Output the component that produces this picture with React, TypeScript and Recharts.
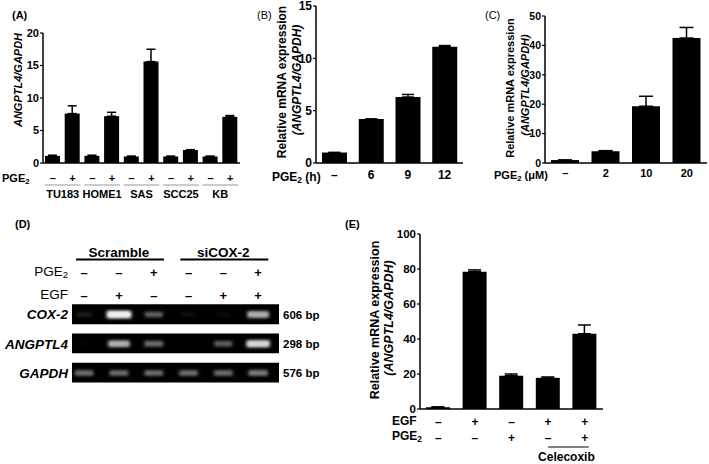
import { Bar, BarChart, ErrorBar, ReferenceArea, Scatter, ScatterChart, XAxis, YAxis } from 'recharts';

const FONT = '"Liberation Sans", Arial, Helvetica, sans-serif';

// (A) cell lines, PGE2 - / +
const cellLines = ['TU183', 'HOME1', 'SAS', 'SCC25', 'KB'];
const aCtrl = [1.1, 1.1, 1.0, 1.0, 1.0];
const aCtrlErr = [0.1, 0.1, 0.05, 0.05, 0.05];
const aPge = [7.6, 7.2, 15.6, 2.0, 7.1];
const aPgeErr = [1.2, 0.6, 1.9, 0.05, 0.2];
const aTicks = [0, 5, 10, 15, 20];

// (B) PGE2 time course (h)
const bLabels = ['–', '6', '9', '12'];
const bValues = [1.0, 4.2, 6.3, 11.1];
const bErr = [0, 0, 0.25, 0.12];
const bTicks = [0, 5, 10, 15];

// (C) PGE2 dose (uM)
const cLabels = ['–', '2', '10', '20'];
const cValues = [1.0, 4.0, 19.3, 42.5];
const cErr = [0, 0.2, 3.4, 3.6];
const cTicks = [0, 10, 20, 30, 40, 50];

// (D) RT-PCR gel
const lanes = [1, 2, 3, 4, 5, 6];
const dPge = ['–', '–', '+', '–', '–', '+'];
const dEgf = ['–', '+', '–', '–', '+', '+'];
const dGroups = ['Scramble', 'siCOX-2'];
const genes = ['GAPDH', 'ANGPTL4', 'COX-2'];
const productSizes = ['576 bp', '298 bp', '606 bp'];
const gapdhBand = [0.5, 0.5, 0.5, 0.5, 0.5, 0.55];
const angptl4Band = [0.06, 0.75, 0.5, 0.03, 0.45, 0.9];
const cox2Band = [0.2, 1.0, 0.45, 0.12, 0.1, 0.75];

// (E) EGF / PGE2 / celecoxib
const eEgf = ['–', '+', '–', '+', '+'];
const ePge = ['–', '–', '+', '–', '+'];
const eValues = [1.0, 78.5, 19.0, 17.8, 43.0];
const eErr = [0.2, 1.0, 1.0, 0.5, 5.0];
const eTicks = [0, 20, 40, 60, 80, 100];

const aData = cellLines.flatMap((g, i) => [
  { key: g + '-', group: g, sign: '–', value: aCtrl[i], err: [0, aCtrlErr[i]] },
  { key: g + '+', group: g, sign: '+', value: aPge[i], err: [0, aPgeErr[i]] },
]);
const bData = bLabels.map((l, i) => ({ key: l + i, label: l, value: bValues[i], err: [0, bErr[i]] }));
const cData = cLabels.map((l, i) => ({ key: l + i, label: l, value: cValues[i], err: [0, cErr[i]] }));
const eData = eValues.map((v, i) => ({ key: 'e' + i, egf: eEgf[i], pge: ePge[i], value: v, err: [0, eErr[i]] }));
const bands = [gapdhBand, angptl4Band, cox2Band].flatMap((row, r) =>
  row.map((k, i) => ({ lane: lanes[i], row: r + 1, intensity: k }))
);

const YW = 36;
const MT = 8;
const MR = 3;

const txt = (size: number, weight = 700) => ({
  fontFamily: FONT,
  fontSize: size,
  fontWeight: weight,
  fill: '#000',
});

function BarPanel(props: any) {
  const { data, left, top, w, h, max, ticks, barSize, cap, tickFont, renderTick, below } = props;
  return (
    <div style={{ position: 'absolute', left: left - YW, top: top - MT }}>
      <BarChart
        width={w + YW + MR}
        height={h + MT + below}
        data={data}
        margin={{ top: MT, right: MR, left: 0, bottom: 0 }}
      >
        <XAxis
          dataKey="key"
          height={below}
          axisLine={{ stroke: '#000', strokeWidth: 1.5 }}
          tickLine={false}
          interval={0}
          tick={renderTick}
        />
        <YAxis
          width={YW}
          domain={[0, max]}
          ticks={ticks}
          interval={0}
          axisLine={{ stroke: '#000', strokeWidth: 1.5 }}
          tickLine={{ stroke: '#000', strokeWidth: 1.2 }}
          tickSize={3}
          tickMargin={1}
          tick={txt(tickFont)}
        />
        <Bar dataKey="value" fill="#000" barSize={barSize} isAnimationActive={false}>
          <ErrorBar dataKey="err" width={cap} stroke="#000" strokeWidth={1.5} direction="y" />
        </Bar>
      </BarChart>
    </div>
  );
}

function Label(props: any) {
  const { x, y, size = 12, weight = 700, italic = false, rotate = false, align = 'center', children } = props;
  let transform = 'translate(-50%, -50%)';
  if (rotate) transform += ' rotate(-90deg)';
  else if (align === 'left') transform = 'translate(0, -50%)';
  else if (align === 'right') transform = 'translate(-100%, -50%)';
  return (
    <div
      style={{
        position: 'absolute',
        left: x,
        top: y,
        transform,
        whiteSpace: 'nowrap',
        fontSize: size,
        fontWeight: weight,
        fontStyle: italic ? 'italic' : 'normal',
        lineHeight: 1,
      }}
    >
      {children}
    </div>
  );
}

const Pge = () => (
  <span>
    PGE<sub style={{ fontSize: '0.7em', verticalAlign: '-0.25em' }}>2</sub>
  </span>
);

const A = { left: 43, top: 33, w: 197, h: 130 };
const B = { left: 316, top: 6, w: 147, h: 157 };
const C = { left: 545, top: 16, w: 162, h: 147 };
const E = { left: 420, top: 234, w: 183, h: 175 };

const aTick = (p: any) => {
  const i = p.index ?? p.payload?.index ?? 0;
  const d = aData[i];
  const y0 = MT + A.h;
  const step = A.w / aData.length;
  return (
    <g key={'at' + i}>
      <text x={p.x} y={y0 + 15} textAnchor="middle" dominantBaseline="central" {...txt(11)}>
        {d.sign}
      </text>
      {d.sign === '+' && (
        <g>
          <line x1={p.x - step - 8} x2={p.x + 8} y1={y0 + 22} y2={y0 + 22} stroke="#999" strokeWidth={1} />
          <text x={p.x - step / 2} y={y0 + 31} textAnchor="middle" dominantBaseline="central" {...txt(11)}>
            {d.group}
          </text>
        </g>
      )}
    </g>
  );
};

const simpleTick = (panel: any, rows: any[], dy: number, size: number) => (p: any) => {
  const i = p.index ?? p.payload?.index ?? 0;
  return (
    <text key={'t' + i} x={p.x} y={MT + panel.h + dy} textAnchor="middle" dominantBaseline="central" {...txt(size)}>
      {rows[i].label}
    </text>
  );
};

const eTick = (p: any) => {
  const i = p.index ?? p.payload?.index ?? 0;
  const d = eData[i];
  const y0 = MT + E.h;
  const step = E.w / eData.length;
  return (
    <g key={'et' + i}>
      <text x={p.x} y={y0 + 12.5} textAnchor="middle" dominantBaseline="central" {...txt(12)}>
        {d.egf}
      </text>
      <text x={p.x} y={y0 + 28.5} textAnchor="middle" dominantBaseline="central" {...txt(12)}>
        {d.pge}
      </text>
      {i === eData.length - 1 && (
        <g>
          <line x1={p.x - step} x2={p.x + 4} y1={y0 + 38} y2={y0 + 38} stroke="#000" strokeWidth={1.2} />
          <text x={p.x - step / 2} y={y0 + 48} textAnchor="middle" dominantBaseline="central" {...txt(12)}>
            Celecoxib
          </text>
        </g>
      )}
    </g>
  );
};

// gel geometry
const G = { left: 72, top: 304, w: 207, h: 78 };
const GL = 72;
const GR = 60;
const GT = 64;
const xDom = [0.65, 6.6];
const yDom = [0.69, 3.36];

const dTick = (p: any) => {
  const i = p.index ?? p.payload?.index ?? 0;
  return (
    <g key={'dt' + i}>
      <text x={p.x} y={32} textAnchor="middle" dominantBaseline="central" {...txt(13)}>
        {dPge[i]}
      </text>
      <text x={p.x} y={55} textAnchor="middle" dominantBaseline="central" {...txt(13)}>
        {dEgf[i]}
      </text>
      {(i === 1 || i === 4) && (
        <g>
          <text x={p.x} y={12} textAnchor="middle" dominantBaseline="central" {...txt(13.5)}>
            {dGroups[i === 1 ? 0 : 1]}
          </text>
          <line x1={p.x - 43} x2={p.x + 45} y1={19.5} y2={19.5} stroke="#000" strokeWidth={2.2} />
        </g>
      )}
    </g>
  );
};

const Band = (p: any) => {
  const { cx, cy, payload } = p;
  const k = payload.intensity;
  const a = Math.pow(k, 1.4);
  const id = 'blur-' + payload.row + '-' + payload.lane;
  const rw = 6 + 6 * k;
  const rh = 1.5 + 2 * k;
  return (
    <g>
      <defs>
        <filter id={id} x="-50%" y="-150%" width="200%" height="400%">
          <feGaussianBlur stdDeviation="1.1" />
        </filter>
      </defs>
      <rect x={cx - rw - 2} y={cy - rh - 1.5} width={2 * rw + 4} height={2 * rh + 3} rx={rh} fill="#fff" fillOpacity={0.3 * a} filter={`url(#${id})`} />
      <rect x={cx - rw} y={cy - rh} width={2 * rw} height={2 * rh} rx={rh} fill="#fff" fillOpacity={0.9 * a} filter={`url(#${id})`} />
    </g>
  );
};

export default function App() {
  return (
    <div
      style={{
        position: 'absolute',
        left: 0,
        top: 0,
        width: 709,
        height: 464,
        background: '#fff',
        fontFamily: FONT,
        color: '#000',
        overflow: 'hidden',
      }}
    >
      {/* (A) */}
      <Label x={12} y={15} size={11} align="left">(A)</Label>
      <Label x={18} y={80} size={11} italic rotate>ANGPTL4/GAPDH</Label>
      <Label x={2} y={179} size={11} align="left"><Pge /></Label>
      <BarPanel data={aData} {...A} max={20} ticks={aTicks} barSize={15} cap={4.5} tickFont={11} renderTick={aTick} below={40} />

      {/* (B) */}
      <Label x={257} y={15} size={11} weight={400} align="left">(B)</Label>
      <Label x={282} y={82} size={12} rotate>Relative mRNA expression</Label>
      <Label x={297} y={80} size={12} italic rotate>(ANGPTL4/GAPDH)</Label>
      <Label x={272} y={177.5} size={12} align="left"><Pge /> (h)</Label>
      <BarPanel data={bData} {...B} max={15} ticks={bTicks} barSize={25} cap={6} tickFont={12} renderTick={simpleTick(B, bData, 12, 12)} below={22} />

      {/* (C) */}
      <Label x={485} y={15} size={11} weight={400} align="left">(C)</Label>
      <Label x={510} y={88} size={11} rotate>Relative mRNA expression</Label>
      <Label x={525} y={85} size={11} italic rotate>(ANGPTL4/GAPDH)</Label>
      <Label x={494} y={175.5} size={11} align="left"><Pge /> (μM)</Label>
      <BarPanel data={cData} {...C} max={50} ticks={cTicks} barSize={28} cap={7} tickFont={10.5} renderTick={simpleTick(C, cData, 10, 11)} below={22} />

      {/* (D) */}
      <Label x={15} y={224} size={11} align="left">(D)</Label>
      <Label x={68} y={272} size={13.5} weight={400} align="right"><Pge /></Label>
      <Label x={68} y={295} size={13.5} weight={400} align="right">EGF</Label>
      <div style={{ position: 'absolute', left: G.left - GL, top: G.top - GT }}>
        <ScatterChart width={GL + G.w + GR} height={GT + G.h + 2} margin={{ top: 0, right: 0, left: 0, bottom: 2 }}>
          <XAxis
            type="number"
            dataKey="lane"
            orientation="top"
            domain={xDom}
            ticks={lanes}
            interval={0}
            height={GT}
            axisLine={false}
            tickLine={false}
            tick={dTick}
            allowDataOverflow
          />
          <YAxis
            yAxisId="left"
            type="number"
            dataKey="row"
            domain={yDom}
            ticks={[1, 2, 3]}
            interval={0}
            width={GL}
            axisLine={false}
            tickLine={false}
            tickSize={0}
            tickMargin={4}
            tickFormatter={(v: number) => genes[v - 1]}
            tick={{ ...txt(13.5), fontStyle: 'italic' }}
            allowDataOverflow
          />
          <YAxis
            yAxisId="right"
            orientation="right"
            type="number"
            domain={yDom}
            ticks={[1, 2, 3]}
            interval={0}
            width={GR}
            axisLine={false}
            tickLine={false}
            tickSize={0}
            tickMargin={4}
            tickFormatter={(v: number) => productSizes[v - 1]}
            tick={txt(11.5)}
            allowDataOverflow
          />
          {[1, 2, 3].map((r) => (
            <ReferenceArea
              key={r}
              yAxisId="left"
              x1={xDom[0]}
              x2={xDom[1]}
              y1={r - 0.33}
              y2={r + 0.35}
              fill="#000"
              fillOpacity={1}
              stroke="none"
              ifOverflow="visible"
            />
          ))}
          <Scatter yAxisId="left" data={bands} shape={Band} isAnimationActive={false} />
        </ScatterChart>
      </div>

      {/* (E) */}
      <Label x={345} y={224} size={11} align="left">(E)</Label>
      <Label x={375} y={320} size={12.5} rotate>Relative mRNA expression</Label>
      <Label x={389} y={318} size={12.5} italic rotate>(ANGPTL4/GAPDH)</Label>
      <Label x={392} y={421} size={12} align="left">EGF</Label>
      <Label x={392} y={437} size={12} align="left"><Pge /></Label>
      <BarPanel data={eData} {...E} max={100} ticks={eTicks} barSize={24} cap={6.5} tickFont={11.5} renderTick={eTick} below={55} />
    </div>
  );
}
